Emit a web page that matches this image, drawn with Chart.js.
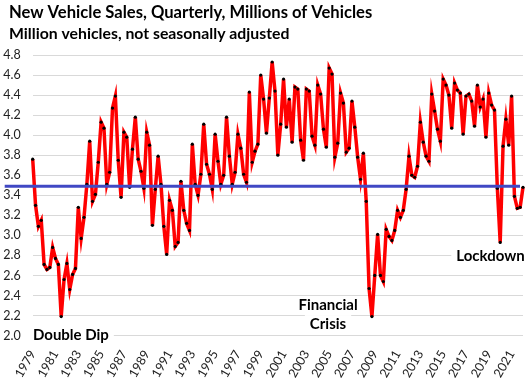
<!DOCTYPE html>
<html>
<head>
<meta charset="utf-8">
<script src="https://cdn.jsdelivr.net/npm/chart.js@4.4.1/dist/chart.umd.min.js"></script>
<style>
  body { margin: 0; background: #fff; }
</style>
</head>
<body>
<canvas id="salesChart" width="527" height="387"></canvas>
<script>
// Quarterly new vehicle sales, millions (not seasonally adjusted)
const startYear = 1979;
const startQuarter = 2;
const sales = [
    3.76, 3.30, 3.09, 3.15, 2.71, 2.66, 2.68, 2.88, 2.77, 2.71, 2.19, 2.56, 2.72, 2.46, 2.61, 2.67,
    3.28, 2.97, 3.18, 3.51, 3.94, 3.34, 3.41, 3.73, 4.13, 4.07, 3.51, 3.63, 4.27, 4.39, 3.75, 3.38,
    4.03, 3.98, 3.48, 3.86, 4.18, 3.76, 3.64, 3.47, 4.03, 3.90, 3.10, 3.46, 3.79, 3.51, 3.09, 2.81,
    3.35, 3.25, 2.89, 2.93, 3.54, 3.25, 3.12, 3.05, 3.91, 3.51, 3.40, 3.61, 4.11, 3.71, 3.61, 3.46,
    4.01, 3.74, 3.51, 3.60, 4.18, 3.79, 3.51, 3.63, 4.01, 3.87, 3.61, 3.53, 4.43, 3.73, 3.84, 3.91,
    4.60, 4.36, 4.02, 4.37, 4.73, 4.44, 3.80, 4.11, 4.56, 4.08, 4.36, 3.93, 4.48, 4.46, 3.95, 3.75,
    4.46, 4.44, 3.99, 3.90, 4.50, 4.41, 4.06, 3.88, 4.67, 4.61, 3.78, 3.92, 4.42, 4.32, 3.83, 3.87,
    4.34, 4.08, 3.78, 3.56, 3.82, 3.34, 2.47, 2.19, 2.60, 3.01, 2.60, 2.54, 3.06, 2.99, 2.95, 3.05,
    3.25, 3.18, 3.25, 3.46, 3.79, 3.60, 3.58, 3.69, 4.13, 3.93, 3.79, 3.74, 4.41, 4.24, 4.06, 3.94,
    4.56, 4.50, 4.40, 4.07, 4.52, 4.45, 4.42, 4.01, 4.39, 4.41, 4.34, 4.09, 4.50, 4.28, 4.36, 3.98,
    4.42, 4.30, 4.25, 3.47, 2.93, 3.89, 4.16, 3.90, 4.39, 3.39, 3.27, 3.28, 3.48
];
const avgSales = 3.49;

const titleText = 'New Vehicle Sales, Quarterly, Millions of Vehicles';
const subtitleText = 'Million vehicles, not seasonally adjusted';

// Text notes placed in data coordinates (category index, value)
const noteTexts = [['Double Dip'], ['Financial', 'Crisis'], ['Lockdown']];
const noteIndex = [13.4, 103.6, 160.6];
const noteValue = [2.0, 2.21, 2.79];

// Build category labels
let quarterLabels = [];
for (let i = 0; i < sales.length; i++) {
    let q = startQuarter - 1 + i;
    quarterLabels.push((startYear + Math.floor(q / 4)) + ' Q' + (q % 4 + 1));
}

const fontFamily = 'Lato, "Liberation Sans", sans-serif';

// Title block drawn at the top left
const headerPlugin = {
    id: 'header',
    afterDraw(chart) {
        let ctx = chart.ctx;
        ctx.save();
        ctx.fillStyle = '#000';
        ctx.textAlign = 'left';
        ctx.textBaseline = 'middle';
        ctx.font = 'bold 16.6px ' + fontFamily;
        ctx.fillText(titleText, 9, 13);
        ctx.font = 'bold 15.8px ' + fontFamily;
        ctx.fillText(subtitleText, 9, 33.5);
        ctx.restore();
    }
};

// Average line and text notes
const extrasPlugin = {
    id: 'extras',
    afterDatasetsDraw(chart) {
        let ctx = chart.ctx;
        let x = chart.scales.x;
        let y = chart.scales.y;

        ctx.save();
        ctx.strokeStyle = '#4048c4';
        ctx.lineWidth = 3;
        let yAvg = y.getPixelForValue(avgSales);
        ctx.beginPath();
        ctx.moveTo(x.getPixelForValue(0) - 28, yAvg);
        ctx.lineTo(x.getPixelForValue(sales.length - 1) - 3, yAvg);
        ctx.stroke();

        ctx.font = 'bold 15px ' + fontFamily;
        ctx.textAlign = 'center';
        ctx.textBaseline = 'middle';
        for (let i = 0; i < noteTexts.length; i++) {
            let lines = noteTexts[i];
            let cx = x.getPixelForValue(noteIndex[i]);
            let cy = y.getPixelForValue(noteValue[i]);
            let lineH = 19;
            let top = cy - (lines.length - 1) * lineH / 2;
            lines.forEach((t, j) => {
                let w = ctx.measureText(t).width;
                ctx.fillStyle = '#fff';
                ctx.fillRect(cx - w / 2 - 5, top + j * lineH - 9, w + 10, 18);
            });
            ctx.fillStyle = '#000';
            lines.forEach((t, j) => ctx.fillText(t, cx, top + j * lineH));
        }
        ctx.restore();
    }
};

let ctx = document.getElementById('salesChart').getContext('2d');
new Chart(ctx, {
    type: 'line',
    data: {
        labels: quarterLabels,
        datasets: [{
            label: 'New vehicle sales',
            data: sales,
            borderColor: '#ff0000',
            borderWidth: 3.5,
            tension: 0,
            pointRadius: 1.6,
            pointBackgroundColor: '#000',
            pointBorderWidth: 0
        }]
    },
    options: {
        responsive: false,
        animation: false,
        layout: { padding: { left: 0, right: 4, top: 55, bottom: 0 } },
        plugins: {
            legend: { display: false },
            tooltip: { enabled: false }
        },
        scales: {
            x: {
                grid: { display: false },
                border: { display: false },
                ticks: {
                    autoSkip: false,
                    minRotation: 60,
                    maxRotation: 60,
                    padding: 4,
                    color: '#222',
                    font: { family: fontFamily, size: 12.5 },
                    callback: function (value, index) {
                        return index % 8 === 0 ? this.getLabelForValue(value).slice(0, 4) : '';
                    }
                },
                afterFit: s => {
                    s.height = 51.4;
                    s.paddingLeft = 0;
                    s.paddingRight = 0;
                }
            },
            y: {
                min: 2.0,
                max: 4.8,
                grid: { color: '#d9d9d9', drawTicks: false },
                border: { display: false },
                ticks: {
                    stepSize: 0.2,
                    padding: 12,
                    color: '#222',
                    font: { family: fontFamily, size: 12.5 },
                    callback: v => v.toFixed(1)
                },
                afterFit: s => { s.width = 32.7; }
            }
        }
    },
    plugins: [extrasPlugin, headerPlugin]
});
</script>
</body>
</html>
